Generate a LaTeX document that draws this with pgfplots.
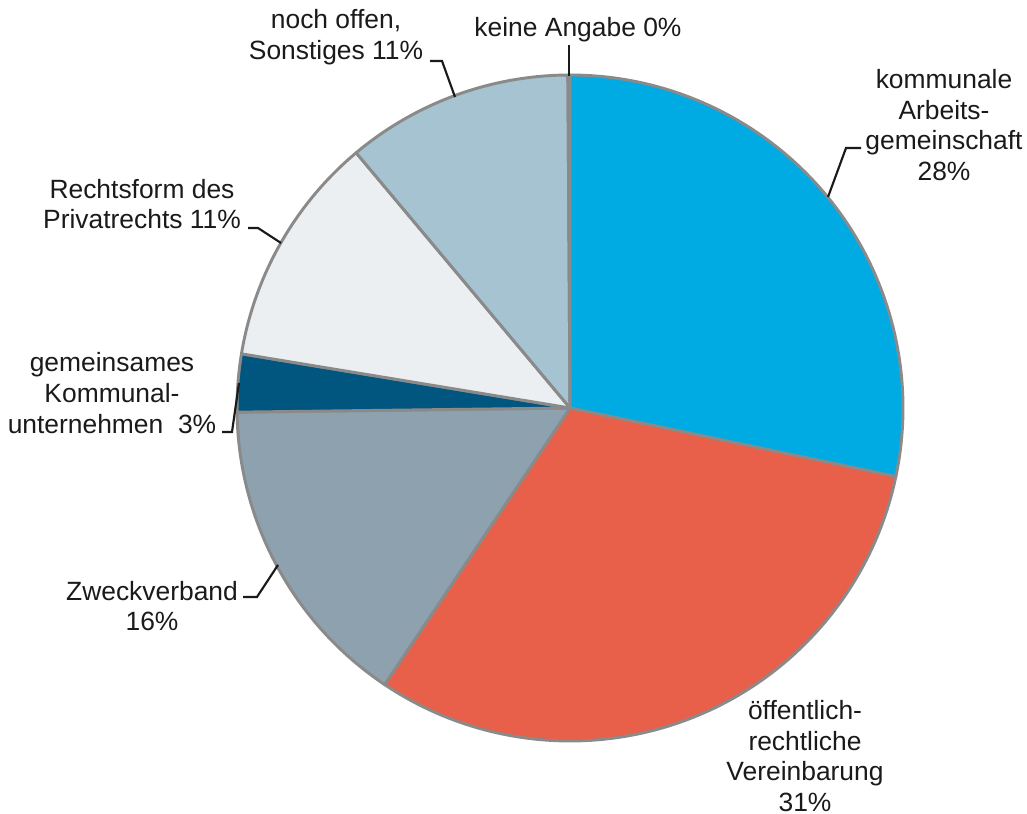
\documentclass[border=0pt]{standalone}
\usepackage{pgfplots}
\pgfplotsset{compat=1.18}
\usepackage{fontspec}
\setmainfont{Liberation Sans}
\definecolor{cA}{HTML}{00ABE4}
\definecolor{cB}{HTML}{E8604A}
\definecolor{cC}{HTML}{8DA2AE}
\definecolor{cD}{HTML}{00567F}
\definecolor{cE}{HTML}{ECEFF2}
\definecolor{cF}{HTML}{A6C3D1}
\definecolor{cG}{HTML}{7F8C94}
\definecolor{edge}{HTML}{8A8A8A}
\definecolor{txt}{HTML}{1A1A1A}
\begin{document}
\begin{tikzpicture}
\begin{axis}[
  width=385pt, height=305.12pt, scale only axis,
  xmin=0, xmax=1027, ymin=0, ymax=814, y dir=reverse,
  hide axis, clip=false,
]
\path (axis cs:0,0) rectangle (axis cs:1027,814);
% pie slices: value (percent) / colour, clockwise from 12 o'clock
\xdef\start{90}
\foreach \v/\c in {28.3/cA,31.1/cB,15.4/cC,2.8/cD,11.3/cE,11.0/cF,0.1/cG} {
  \pgfmathsetmacro\e{\start-3.6*\v}
  \edef\temp{\noexpand\filldraw[fill=\c, draw=edge, line width=1.1pt, line join=round]
    (axis cs:570,408) -- ++(\start:124.83pt) arc[start angle=\start, end angle=\e, radius=124.83pt] -- cycle;}
  \temp
  \xdef\start{\e}
}
% leader lines
\draw[txt, line width=0.8pt] (axis cs:828,197) -- (axis cs:846,148) -- (axis cs:861,148);
\draw[txt, line width=0.8pt] (axis cs:430,61) -- (axis cs:442,61) -- (axis cs:455,97);
\draw[txt, line width=0.8pt] (axis cs:569,45) -- (axis cs:569,76);
\draw[txt, line width=0.8pt] (axis cs:248,228) -- (axis cs:258,228) -- (axis cs:281,243);
\draw[txt, line width=0.8pt] (axis cs:222,432) -- (axis cs:232,432) -- (axis cs:239,383);
\draw[txt, line width=0.8pt] (axis cs:243,597) -- (axis cs:257,597) -- (axis cs:278,565);
% labels
\tikzset{lab/.style={align=center, inner sep=0pt, text=txt, font=\fontsize{9.9}{11.5}\selectfont}}
\node[lab] at (axis cs:944,125) {kommunale\\Arbeits-\\gemeinschaft\\28\%};
\node[lab] at (axis cs:805,756) {öffentlich-\\rechtliche\\Vereinbarung\\31\%};
\node[lab] at (axis cs:152,606) {Zweckverband\\16\%};
\node[lab] at (axis cs:112,393) {gemeinsames\\Kommunal-\\unternehmen\ \ 3\%};
\node[lab] at (axis cs:142,204) {Rechtsform des\\Privatrechts 11\%};
\node[lab] at (axis cs:336,37) {noch offen,\\Sonstiges 11\%};
\node[lab] at (axis cs:578,30) {keine Angabe 0\%};
\end{axis}
\end{tikzpicture}
\end{document}
